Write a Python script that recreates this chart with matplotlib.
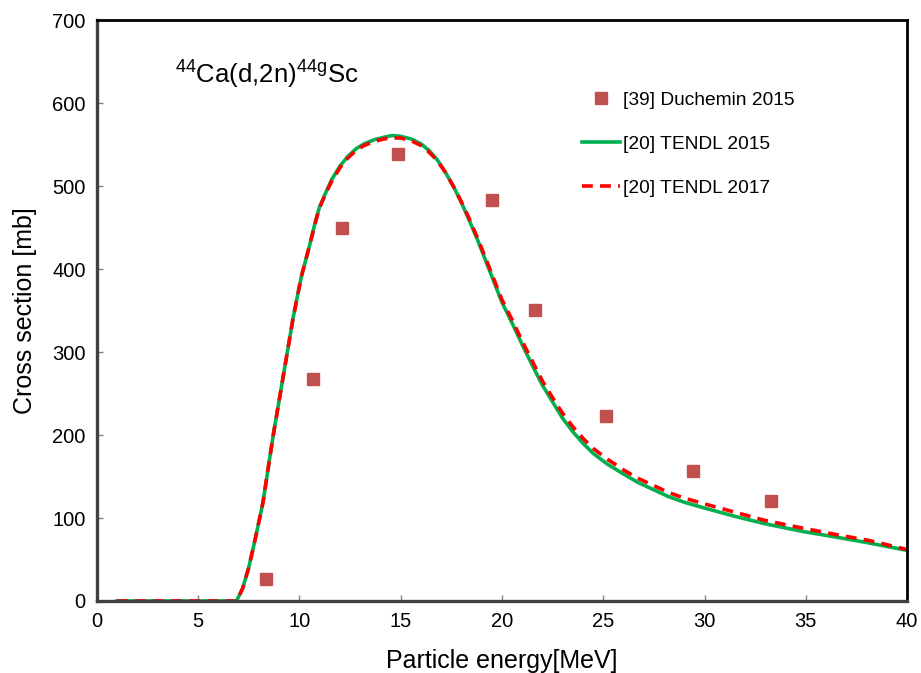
import numpy as np
import matplotlib
matplotlib.use("Agg")
import matplotlib.pyplot as plt

plt.rcParams['font.family'] = ['Liberation Sans', 'DejaVu Sans']
plt.rcParams['mathtext.fontset'] = 'custom'
plt.rcParams['mathtext.rm'] = 'Liberation Sans'
plt.rcParams['mathtext.it'] = 'Liberation Sans'

# experimental points (Duchemin 2015)
exp_e = [8.35, 10.67, 12.1, 14.85, 19.5, 21.65, 25.12, 29.45, 33.3]
exp_xs = [27, 268, 449, 539, 483, 351, 223, 157, 120]

curve_e = [1, 6.9, 7.2, 7.5, 7.8, 8.2, 8.7, 9.2, 9.7, 10.1, 10.5, 10.8, 11.0,
           11.3, 11.6, 12.0, 12.4, 12.8, 13.2, 13.7, 14.2, 14.6, 15.0, 15.5,
           16.0, 16.4, 16.8, 17.2, 17.6, 18.0, 18.4, 18.8, 19.2, 19.6, 20.0,
           20.5, 21.0, 21.5, 22.0, 22.5, 23.0, 23.5, 24.0, 24.5, 25.2, 26.0,
           26.7, 27.5, 28.2, 29.0, 30.0, 31.5, 33.0, 34.8, 36.5, 38.1, 40]

# TENDL 2015
t15_xs = [0, 0, 15, 40, 72, 118, 198, 270, 342, 391, 428, 458, 475,
          492, 508, 524, 536, 545, 551, 556, 559, 561, 560, 557,
          551, 543, 532, 517, 500, 480, 458, 435, 410, 385, 360,
          335, 309, 284, 260, 240, 220, 204, 190, 178, 165, 153,
          143, 134, 126, 119, 112, 102, 93, 84, 77, 70, 61]

# TENDL 2017
t17_xs = [0, 0, 15, 40, 72, 118, 198, 270, 342, 391, 428, 457, 474,
          491, 506, 522, 534, 543, 549, 554, 557, 558, 558, 555,
          549, 541, 531, 517, 500, 481, 460, 437, 413, 388, 363,
          339, 313, 289, 265, 245, 226, 210, 196, 184, 171, 158,
          148, 139, 131, 124, 117, 107, 97, 88, 80, 73, 62]

fig = plt.figure(figsize=(9.21, 6.73), dpi=100)
ax = fig.add_axes([0.105, 0.107, 0.880, 0.863])

ax.plot(exp_e, exp_xs, 's', color='#C0504D', ms=8.5, label='[39] Duchemin 2015')
ax.plot(curve_e, t15_xs, '-', color='#00B050', lw=2.6, label='[20] TENDL 2015')
ax.plot(curve_e, t17_xs, '--', color='#FF0000', lw=2.6, dashes=(3.0, 2.0),
        label='[20] TENDL 2017')

ax.set_xlim(0, 40)
ax.set_ylim(0, 700)
ax.set_xticks(range(0, 41, 5))
ax.set_yticks(range(0, 701, 100))
ax.tick_params(direction='in', length=4, width=1, color='#808080',
               labelsize=14.5, pad=8)

for s in ['left', 'bottom']:
    ax.spines[s].set_color('#404040')
    ax.spines[s].set_linewidth(2.4)
for s in ['top', 'right']:
    ax.spines[s].set_color('black')
    ax.spines[s].set_linewidth(2.0)

ax.set_xlabel('Particle energy[MeV]', fontsize=18, labelpad=13)
ax.set_ylabel('Cross section [mb]', fontsize=18, labelpad=11)

ax.text(0.096, 0.905, r'$^{44}$Ca(d,2n)$^{44g}$Sc', transform=ax.transAxes,
        fontsize=18.5, va='center')

ax.legend(loc='upper left', bbox_to_anchor=(0.577, 0.907), frameon=False,
          fontsize=13.8, handlelength=2.0, labelspacing=1.38, handletextpad=0.15)

fig.savefig('out.png', dpi=100)
